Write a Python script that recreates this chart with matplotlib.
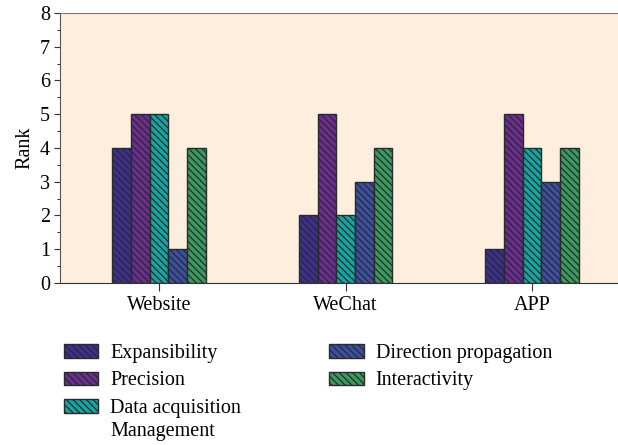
import numpy as np
import matplotlib.pyplot as plt

plt.rcParams['font.family'] = ['Liberation Serif', 'DejaVu Serif']
plt.rcParams['hatch.linewidth'] = 0.9
plt.rcParams['hatch.color'] = '#222222'

# Data
categories = ['Website', 'WeChat', 'APP']
series = ['Expansibility', 'Precision', 'Data acquisition',
          'Direction propagation', 'Interactivity']
values = [
    [4, 2, 1],   # Expansibility
    [5, 5, 5],   # Precision
    [5, 2, 4],   # Data acquisition Management
    [1, 3, 3],   # Direction propagation
    [4, 4, 4],   # Interactivity
]
colors = ['#3b2f90', '#6b2d92', '#13a6a2', '#3c4fa2', '#3a9a5f']

fig = plt.figure(figsize=(6.18, 4.45), dpi=100)
ax = fig.add_axes([0.097, 0.364, 0.903, 0.607])
ax.set_facecolor('#fdeedd')

ind = np.arange(len(categories))
width = 0.1
for i, (name, vals) in enumerate(zip(series, values)):
    ax.bar(ind + (i - 2) * width, vals, width, label=name, color=colors[i],
           edgecolor='#2a2a2a', linewidth=1.0, hatch='\\\\\\\\\\')

ax.set_xlim(-0.53, 2.46)
ax.set_ylim(0, 8)
ax.set_xticks(ind)
ax.set_xticklabels(categories, fontsize=14.5)
ax.set_yticks(np.arange(0, 9, 1))
ax.set_yticks(np.arange(0.5, 8, 1), minor=True)
ax.tick_params(axis='y', labelsize=14.5, direction='out', length=4, color='#333333', pad=3)
ax.tick_params(axis='y', which='minor', length=2.5)
ax.tick_params(axis='x', direction='out', length=6, color='#333333')
ax.set_ylabel('Rank', fontsize=14.5, labelpad=4)

ax.spines['right'].set_visible(False)
ax.spines['top'].set_color('#777777')
ax.spines['left'].set_color('#555555')
ax.spines['bottom'].set_color('#333333')

leg = fig.legend(loc='upper left', bbox_to_anchor=(0.09, 0.245), ncol=2, frameon=False,
                 fontsize=14.5, handlelength=1.7, handleheight=0.65, handletextpad=0.6,
                 columnspacing=4.4, labelspacing=0.42, borderaxespad=0)

# second line of the "Data acquisition" label
fig.canvas.draw()
t = leg.get_texts()[2]
bb = t.get_window_extent()
x0, y0 = fig.transFigure.inverted().transform((bb.x0, bb.y0))
fig.text(x0, y0 - 0.009, 'Management', fontsize=14.5, ha='left', va='top')

fig.savefig('out.png', dpi=100)
